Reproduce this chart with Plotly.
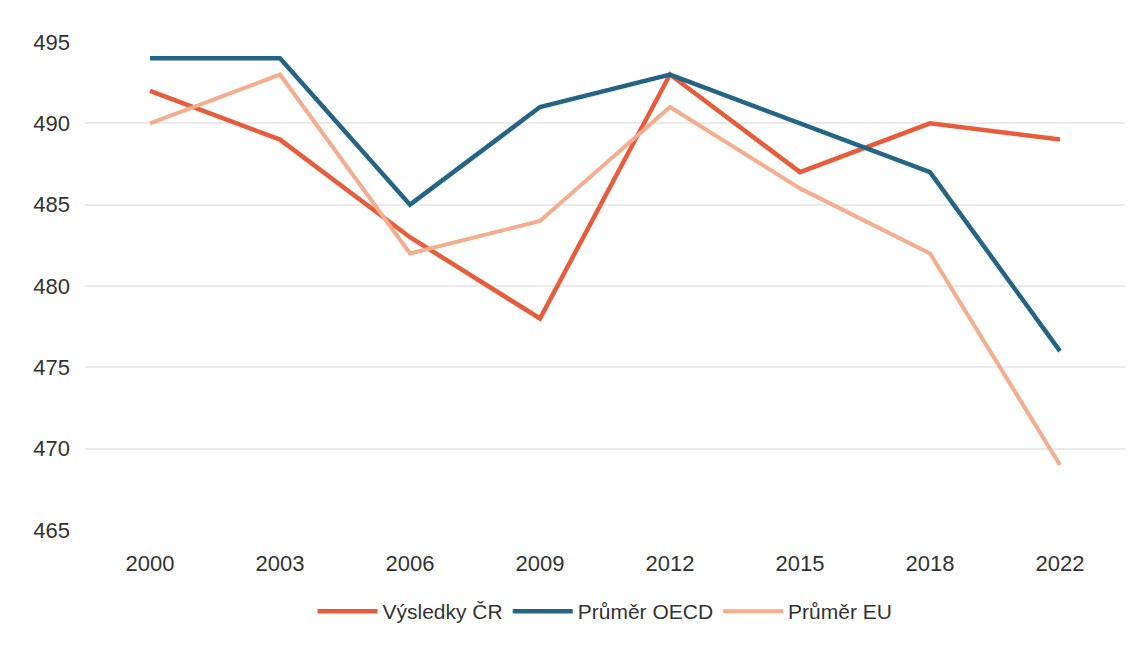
import plotly.graph_objs as go

years = ['2000', '2003', '2006', '2009', '2012', '2015', '2018', '2022']
vysledky_cr = [492, 489, 483, 478, 493, 487, 490, 489]
prumer_oecd = [494, 494, 485, 491, 493, 490, 487, 476]
prumer_eu = [490, 493, 482, 484, 491, 486, 482, 469]
y_ticks = [465, 470, 475, 480, 485, 490, 495]

traces = [
    go.Scatter(x=years, y=vysledky_cr, mode='lines', name='Výsledky ČR',
               line={'color': '#E85C3C', 'width': 4.5}),
    go.Scatter(x=years, y=prumer_oecd, mode='lines', name='Průměr OECD',
               line={'color': '#246585', 'width': 4.5}),
    go.Scatter(x=years, y=prumer_eu, mode='lines', name='Průměr EU',
               line={'color': '#F5AD8E', 'width': 4}),
]

layout = go.Layout(
    width=1143, height=650,
    margin={'l': 77, 'r': 26, 't': 34, 'b': 128, 'autoexpand': False},
    paper_bgcolor='white', plot_bgcolor='white',
    font={'family': 'Liberation Sans, Arial, sans-serif', 'size': 22, 'color': '#333333'},
    xaxis={'type': 'category', 'range': [-0.5, 7.5], 'showgrid': False,
           'showline': False, 'ticks': '', 'ticklabelstandoff': 18,
           'automargin': False},
    yaxis={'range': [465, 495], 'tickvals': y_ticks, 'showgrid': True,
           'gridcolor': '#EBEBEB', 'gridwidth': 1.5, 'zeroline': False,
           'ticks': '', 'ticklabelstandoff': 14, 'automargin': False},
    legend={'orientation': 'h', 'x': 0.5, 'xanchor': 'center', 'y': -0.125,
            'yanchor': 'top', 'font': {'size': 21, 'color': '#333333'},
            'itemwidth': 60, 'tracegroupgap': 0},
    showlegend=True,
)

fig = go.Figure(data=traces, layout=layout)
fig.write_html("out.html")
